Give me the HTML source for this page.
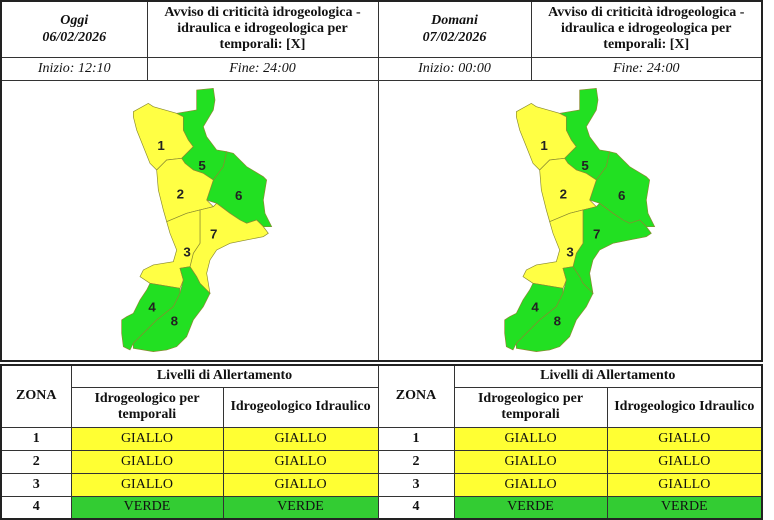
<!DOCTYPE html>
<html><head><meta charset="utf-8"><style>
body{margin:0;width:774px;height:516px;overflow:hidden;background:#fff;font-family:"Liberation Serif",serif;color:#111}
table{border-collapse:collapse;position:absolute;left:0;table-layout:fixed}
td{border:1px solid #333;padding:0;text-align:center;vertical-align:middle}
#top{top:0;width:761px;border:2px solid #222}
#bot{top:364px;width:761px;border:2px solid #222}
.b{font-weight:bold;font-size:14px;line-height:16px}
.i{font-style:italic;font-size:14px}
.bi{font-weight:bold;font-style:italic;font-size:14px;line-height:17px}
.y{background:#ffff33;font-size:14px}
.g{background:#33cc33;font-size:14px}
.z{font-weight:bold;font-size:14px}
</style></head><body>
<table id="top">
<colgroup><col style="width:146px"><col style="width:231px"><col style="width:153px"><col style="width:231px"></colgroup>
<tr style="height:56px"><td class="bi">Oggi<br>06/02/2026</td><td class="b">Avviso di criticità idrogeologica -<br>idraulica e idrogeologica per<br>temporali: [X]</td><td class="bi">Domani<br>07/02/2026</td><td class="b">Avviso di criticità idrogeologica -<br>idraulica e idrogeologica per<br>temporali: [X]</td></tr>
<tr style="height:23px"><td class="i">Inizio: 12:10</td><td class="i">Fine: 24:00</td><td class="i">Inizio: 00:00</td><td class="i">Fine: 24:00</td></tr>
<tr style="height:281px"><td colspan="2"></td><td colspan="2"></td></tr>
</table>
<svg style="position:absolute;left:0;top:0" width="774" height="516">
<g transform="translate(100,80) scale(0.3333)" stroke="#8a8a30" stroke-width="2" font-family="Liberation Sans,sans-serif" font-weight="bold" font-size="40">
<polygon fill="#ffff44" points="100,95 145,70 160,80 230,100 250,110 250,150 265,180 280,200 245,235 200,240 170,270 150,250 130,200 110,150 100,110"/>
<polygon fill="#22e022" points="230,100 290,90 290,30 340,25 345,60 340,90 310,140 320,170 350,210 380,215 370,260 340,300 310,280 280,270 255,250 245,235 280,200 265,180 250,150 250,110"/>
<polygon fill="#22e022" points="380,215 400,220 440,260 490,290 500,300 490,360 495,400 515,440 490,440 470,420 440,430 420,420 390,400 350,370 320,360 340,300 370,260"/>
<polygon fill="#ffff44" points="170,270 200,240 245,235 255,250 280,270 310,280 340,300 320,360 340,380 300,390 260,400 200,425 190,390 175,330"/>
<polygon fill="#ffff44" points="300,390 340,380 350,370 390,400 420,420 440,430 470,420 490,440 505,460 490,470 440,480 390,490 350,510 330,540 320,580 330,640 300,610 290,590 270,560 280,520 300,490 300,440"/>
<polygon fill="#ffff44" points="200,425 260,400 300,390 300,440 300,490 280,520 270,560 240,565 250,600 240,625 180,615 150,610 120,590 130,570 160,555 220,545 230,510 210,460"/>
<polygon fill="#22e022" points="150,610 240,625 240,640 220,680 170,720 100,790 90,810 70,800 65,760 65,720 80,710 100,700 120,660 140,630"/>
<polygon fill="#22e022" points="240,565 270,560 290,590 300,610 330,640 310,680 280,720 260,770 230,800 200,810 160,815 100,805 100,790 170,720 220,680 240,640 250,600"/>
<g stroke="none" fill="#222"><text x="172" y="210">1</text><text x="295" y="270">5</text><text x="405" y="360">6</text><text x="230" y="355">2</text><text x="330" y="475">7</text><text x="250" y="530">3</text><text x="145" y="695">4</text><text x="212" y="737">8</text></g>
</g>
<g transform="translate(483,80) scale(0.3333)" stroke="#8a8a30" stroke-width="2" font-family="Liberation Sans,sans-serif" font-weight="bold" font-size="40">
<polygon fill="#ffff44" points="100,95 145,70 160,80 230,100 250,110 250,150 265,180 280,200 245,235 200,240 170,270 150,250 130,200 110,150 100,110"/>
<polygon fill="#22e022" points="230,100 290,90 290,30 340,25 345,60 340,90 310,140 320,170 350,210 380,215 370,260 340,300 310,280 280,270 255,250 245,235 280,200 265,180 250,150 250,110"/>
<polygon fill="#22e022" points="380,215 400,220 440,260 490,290 500,300 490,360 495,400 515,440 490,440 470,420 440,430 420,420 390,400 350,370 320,360 340,300 370,260"/>
<polygon fill="#ffff44" points="170,270 200,240 245,235 255,250 280,270 310,280 340,300 320,360 340,380 300,390 260,400 200,425 190,390 175,330"/>
<polygon fill="#22e022" points="300,390 340,380 350,370 390,400 420,420 440,430 470,420 490,440 505,460 490,470 440,480 390,490 350,510 330,540 320,580 330,640 300,610 290,590 270,560 280,520 300,490 300,440"/>
<polygon fill="#ffff44" points="200,425 260,400 300,390 300,440 300,490 280,520 270,560 240,565 250,600 240,625 180,615 150,610 120,590 130,570 160,555 220,545 230,510 210,460"/>
<polygon fill="#22e022" points="150,610 240,625 240,640 220,680 170,720 100,790 90,810 70,800 65,760 65,720 80,710 100,700 120,660 140,630"/>
<polygon fill="#22e022" points="240,565 270,560 290,590 300,610 330,640 310,680 280,720 260,770 230,800 200,810 160,815 100,805 100,790 170,720 220,680 240,640 250,600"/>
<g stroke="none" fill="#222"><text x="172" y="210">1</text><text x="295" y="270">5</text><text x="405" y="360">6</text><text x="230" y="355">2</text><text x="330" y="475">7</text><text x="250" y="530">3</text><text x="145" y="695">4</text><text x="212" y="737">8</text></g>
</g>
</svg>
<table id="bot">
<colgroup><col style="width:70px"><col style="width:152px"><col style="width:155px"><col style="width:76px"><col style="width:153px"><col style="width:155px"></colgroup>
<tr style="height:22px"><td rowspan="2" class="z">ZONA</td><td colspan="2" class="z">Livelli di Allertamento</td><td rowspan="2" class="z">ZONA</td><td colspan="2" class="z">Livelli di Allertamento</td></tr>
<tr style="height:40px"><td class="b">Idrogeologico per<br>temporali</td><td class="b">Idrogeologico Idraulico</td><td class="b">Idrogeologico per<br>temporali</td><td class="b">Idrogeologico Idraulico</td></tr>
<tr style="height:23px"><td class="z">1</td><td class="y">GIALLO</td><td class="y">GIALLO</td><td class="z">1</td><td class="y">GIALLO</td><td class="y">GIALLO</td></tr>
<tr style="height:23px"><td class="z">2</td><td class="y">GIALLO</td><td class="y">GIALLO</td><td class="z">2</td><td class="y">GIALLO</td><td class="y">GIALLO</td></tr>
<tr style="height:23px"><td class="z">3</td><td class="y">GIALLO</td><td class="y">GIALLO</td><td class="z">3</td><td class="y">GIALLO</td><td class="y">GIALLO</td></tr>
<tr style="height:23px"><td class="z">4</td><td class="g">VERDE</td><td class="g">VERDE</td><td class="z">4</td><td class="g">VERDE</td><td class="g">VERDE</td></tr>
</table>
</body></html>
